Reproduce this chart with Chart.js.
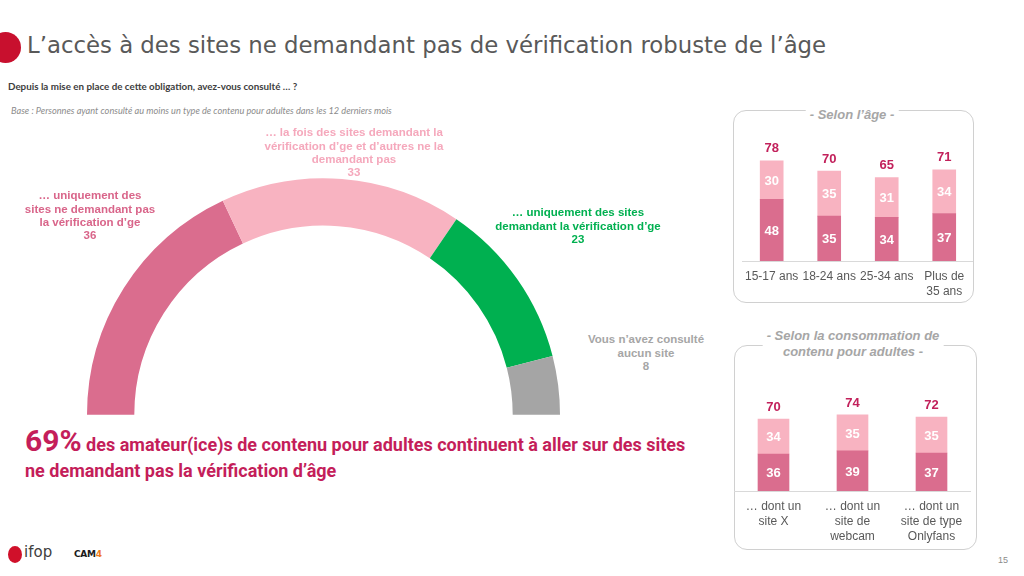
<!DOCTYPE html>
<html>
<head>
<meta charset="utf-8">
<script src="https://cdn.jsdelivr.net/npm/chart.js@4.4.1/dist/chart.umd.min.js"></script>
<style>
  body { margin: 0; width: 1024px; height: 576px; overflow: hidden; background: #fff; position: relative; font-family: "Liberation Sans", Arial, sans-serif; }
  .abs { position: absolute; }
  #title { left: 27px; top: 32px; font-family: "DejaVu Sans", sans-serif; font-size: 22.8px; color: #595959; white-space: nowrap; }
  #dot { left: -10px; top: 32px; width: 31px; height: 31px; border-radius: 50%; background: #C8102E; }
  #question { left: 8px; top: 80px; font-family: Lato, sans-serif; font-weight: bold; font-size: 9.8px; color: #404040; white-space: nowrap; }
  #base { left: 11px; top: 105px; font-family: Lato, sans-serif; font-style: italic; font-size: 9.2px; color: #8C8C8C; white-space: nowrap; }
  .glabel { font-weight: bold; font-size: 11.5px; line-height: 13.3px; text-align: center; white-space: nowrap; transform: translateX(-50%); }
  .box { border: 1px solid #D0D0D0; border-radius: 13px; }
  .boxtitle { font-weight: bold; font-style: italic; font-size: 13px; color: #A6A6A6; text-align: center; white-space: nowrap; transform: translateX(-50%); background: #fff; line-height: 16px; padding: 0 4px; }
  #key { left: 25px; top: 423px; color: #C41E5A; font-family: Roboto, sans-serif; font-weight: bold; white-space: nowrap; }
  #key .big { font-size: 30px; }
  #key .rest { font-size: 18px; }
  #key2 { left: 25px; top: 460px; color: #C41E5A; font-family: Roboto, sans-serif; font-weight: bold; font-size: 18px; white-space: nowrap; }
  #page { left: 998px; top: 555px; font-size: 9px; color: #8C8C8C; }
</style>
</head>
<body>
<div id="dot" class="abs"></div>
<div id="title" class="abs">L’accès à des sites ne demandant pas de vérification robuste de l’âge</div>
<div id="question" class="abs">Depuis la mise en place de cette obligation, avez-vous consulté … ?</div>
<div id="base" class="abs">Base : Personnes ayant consulté au moins un type de contenu pour adultes dans les 12 derniers mois</div>

<div class="abs" style="left:87px;top:178px;width:473px;height:237px;">
  <canvas id="gauge" width="473" height="237"></canvas>
</div>

<div class="abs box" style="left:733px;top:110px;width:239px;height:191px;"></div>
<div class="abs boxtitle" style="left:852px;top:107px;">- Selon l’âge -</div>
<div class="abs" style="left:737px;top:130px;width:236px;height:170px;">
  <canvas id="ageChart" width="236" height="170"></canvas>
</div>

<div class="abs box" style="left:734px;top:345px;width:241px;height:203px;"></div>
<div class="abs boxtitle" style="left:853px;top:328px;">- Selon la consommation de<br>contenu pour adultes -</div>
<div class="abs" style="left:734px;top:380px;width:237px;height:166px;">
  <canvas id="useChart" width="237" height="166"></canvas>
</div>

<div id="key" class="abs"><span class="big">69%</span><span class="rest"> des amateur(ice)s de contenu pour adultes continuent à aller sur des sites</span></div>
<div id="key2" class="abs">ne demandant pas la vérification d’âge</div>

<div class="abs" style="left:8px;top:546px;width:14px;height:17px;border-radius:50%;background:#D0102A;"></div>
<div class="abs" style="left:24px;top:543px;font-family:'DejaVu Sans',sans-serif;font-size:15px;color:#404040;">ifop</div>
<div class="abs" style="left:74px;top:549px;font-family:'DejaVu Sans',sans-serif;font-weight:bold;font-size:9px;color:#1a1a1a;letter-spacing:-0.3px;">CAM<span style="color:#F07A1A">4</span></div>
<div id="page" class="abs">15</div>

<script>
// Gauge (half doughnut)
const gaugeValues = [36, 33, 23, 8];
const gaugeColors = ['#DA6D8E', '#F8B3C1', '#00B050', '#A5A5A5'];
const gaugeTextColors = ['#D9658A', '#F5A8BC', '#00B050', '#A6A6A6'];
const gaugeLines = [
  ['… uniquement des', 'sites ne demandant pas', 'la vérification d’ge'],
  ['…  la fois des sites demandant la', 'vérification d’ge et d’autres ne la', 'demandant pas'],
  ['… uniquement des sites', 'demandant la vérification d’ge'],
  ['Vous n’avez consulté', 'aucun site']
];

// Right-hand bar charts
const ageLabels = ['15-17 ans', '18-24 ans', '25-34 ans', ['Plus de', '35 ans']];
const ageOnlyNot = [48, 35, 34, 37];
const ageBoth = [30, 35, 31, 34];

const useLabels = [['… dont un', 'site X'], ['… dont un', 'site de', 'webcam'], ['… dont un', 'site de type', 'Onlyfans']];
const useOnlyNot = [36, 39, 37];
const useBoth = [34, 35, 35];

// label spots around the gauge (centre x, first line y)
const gaugeLabelPos = [[90, 196], [354, 133], [578, 213], [646, 340]];
gaugeLines.forEach((lines, i) => {
  const d = document.createElement('div');
  d.className = 'abs glabel';
  d.style.left = gaugeLabelPos[i][0] + 'px';
  d.style.top = (gaugeLabelPos[i][1] - 6.6) + 'px';
  d.style.color = gaugeTextColors[i];
  d.innerHTML = lines.concat([String(gaugeValues[i])]).join('<br>');
  document.body.appendChild(d);
});

new Chart(document.getElementById('gauge'), {
  type: 'doughnut',
  data: {
    labels: gaugeLines.map(l => l.join(' ')),
    datasets: [{ data: gaugeValues, backgroundColor: gaugeColors, borderWidth: 0 }]
  },
  options: {
    responsive: false,
    animation: false,
    rotation: -90,
    circumference: 180,
    cutout: '80%',
    layout: { padding: 0 },
    plugins: { legend: { display: false }, tooltip: { enabled: false } }
  }
});

const barValues = {
  id: 'barValues',
  afterDatasetsDraw(chart) {
    const ctx = chart.ctx;
    ctx.save();
    ctx.textAlign = 'center';
    ctx.textBaseline = 'middle';
    ctx.font = 'bold 13px "Liberation Sans"';
    ctx.fillStyle = '#fff';
    chart.data.datasets.forEach((ds, di) => {
      chart.getDatasetMeta(di).data.forEach((bar, i) => {
        ctx.fillText(ds.data[i], bar.x, (bar.y + bar.base) / 2 + 1);
      });
    });
    const last = chart.data.datasets.length - 1;
    ctx.fillStyle = '#C2215B';
    chart.getDatasetMeta(last).data.forEach((bar, i) => {
      const total = chart.data.datasets.reduce((s, d) => s + d.data[i], 0);
      ctx.fillText(total, bar.x, bar.y - 12);
    });
    ctx.restore();
  }
};

function stackedChart(id, labels, lower, upper, yMax, barW, axisH) {
  return new Chart(document.getElementById(id), {
    type: 'bar',
    data: {
      labels: labels,
      datasets: [
        { data: lower, backgroundColor: '#DA6D8E', barThickness: barW },
        { data: upper, backgroundColor: '#F8B3C1', barThickness: barW }
      ]
    },
    options: {
      responsive: false,
      animation: false,
      layout: { padding: 0 },
      plugins: { legend: { display: false }, tooltip: { enabled: false } },
      scales: {
        x: {
          stacked: true,
          grid: { display: false, drawTicks: false },
          border: { display: true, color: '#D9D9D9', width: 1 },
          ticks: {
            autoSkip: false, maxRotation: 0, minRotation: 0, padding: 8,
            color: '#595959', font: { family: 'Liberation Sans', size: 12, lineHeight: 1.25 }
          },
          afterFit: s => { s.height = axisH; }
        },
        y: { stacked: true, display: false, min: 0, max: yMax }
      }
    },
    plugins: [barValues]
  });
}

stackedChart('ageChart', ageLabels, ageOnlyNot, ageBoth, 102, 23, 39);
stackedChart('useChart', useLabels, useOnlyNot, useBoth, 108, 31, 55);
</script>
</body>
</html>
